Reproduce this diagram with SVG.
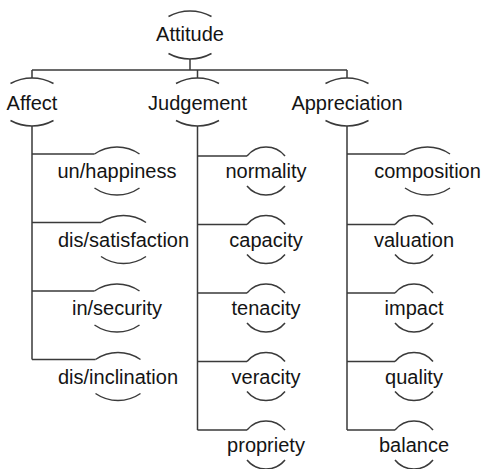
<svg xmlns="http://www.w3.org/2000/svg" width="485" height="469" viewBox="0 0 485 469">
<style>
.arc{fill:none;stroke:#3a3a3a;stroke-width:1.5}
.ln{fill:none;stroke:#3a3a3a;stroke-width:1.5}
text{font-family:"Liberation Sans",Arial,sans-serif;font-size:20px;fill:#141414;text-anchor:middle}
</style>
<rect width="485" height="469" fill="#ffffff"/>
<g id="connectors">
<path class="ln" d="M190,59 V70 M32,70 H347 M32,70 V78 M197.5,70 V78 M347,70 V78"/>
<path class="ln" d="M32,126 V359.5 M32,154 H94.5 M32,222.5 H101 M32,291 H94.5 M32,359.5 H95.5"/>
<path class="ln" d="M197.5,126 V430 M197.5,156 H247 M197.5,224.5 H247 M197.5,293 H247 M197.5,361.5 H247 M197.5,430 H247"/>
<path class="ln" d="M347,126 V430 M347,154 H405 M347,224.5 H395 M347,293 H395 M347,361.5 H395 M347,430 H395"/>
</g>
<g id="attitude"><path class="arc" d="M168.5,16.5 A44.77,44.77 0 0 1 211.5,16.5 M168.5,53.5 A44.77,44.77 0 0 0 211.5,53.5"/><text x="190" y="41">Attitude</text></g>
<g id="affect"><path class="arc" d="M10.5,83.5 A44.77,44.77 0 0 1 53.5,83.5 M10.5,120.5 A44.77,44.77 0 0 0 53.5,120.5"/><text x="32" y="109.5">Affect</text></g>
<g id="judgement"><path class="arc" d="M176,83.5 A44.77,44.77 0 0 1 219,83.5 M176,120.5 A44.77,44.77 0 0 0 219,120.5"/><text x="197.5" y="109.5">Judgement</text></g>
<g id="appreciation"><path class="arc" d="M325.5,83.5 A44.77,44.77 0 0 1 368.5,83.5 M325.5,120.5 A44.77,44.77 0 0 0 368.5,120.5"/><text x="347" y="109.5">Appreciation</text></g>
<g id="unhappiness"><path class="arc" d="M94.5,154 A39.66,39.66 0 0 1 139.5,154 M94.5,188 A39.66,39.66 0 0 0 139.5,188"/><text x="117" y="178">un/happiness</text></g>
<g id="dissatisfaction"><path class="arc" d="M101,222.5 A39.66,39.66 0 0 1 146,222.5 M101,256.5 A39.66,39.66 0 0 0 146,256.5"/><text x="123.5" y="246.5">dis/satisfaction</text></g>
<g id="insecurity"><path class="arc" d="M94.5,291 A39.66,39.66 0 0 1 139.5,291 M94.5,325 A39.66,39.66 0 0 0 139.5,325"/><text x="117" y="315">in/security</text></g>
<g id="disinclination"><path class="arc" d="M95.5,359.5 A39.66,39.66 0 0 1 140.5,359.5 M95.5,393.5 A39.66,39.66 0 0 0 140.5,393.5"/><text x="118" y="383.5">dis/inclination</text></g>
<g id="normality"><path class="arc" d="M247,156 A24.56,24.56 0 0 1 285,156 M247,186 A24.56,24.56 0 0 0 285,186"/><text x="266" y="178">normality</text></g>
<g id="capacity"><path class="arc" d="M247,224.5 A24.56,24.56 0 0 1 285,224.5 M247,254.5 A24.56,24.56 0 0 0 285,254.5"/><text x="266" y="246.5">capacity</text></g>
<g id="tenacity"><path class="arc" d="M247,293 A24.56,24.56 0 0 1 285,293 M247,323 A24.56,24.56 0 0 0 285,323"/><text x="266" y="315">tenacity</text></g>
<g id="veracity"><path class="arc" d="M247,361.5 A24.56,24.56 0 0 1 285,361.5 M247,391.5 A24.56,24.56 0 0 0 285,391.5"/><text x="266" y="383.5">veracity</text></g>
<g id="propriety"><path class="arc" d="M247,430 A24.56,24.56 0 0 1 285,430 M247,460 A24.56,24.56 0 0 0 285,460"/><text x="266" y="452">propriety</text></g>
<g id="composition"><path class="arc" d="M405,154 A39.66,39.66 0 0 1 450,154 M405,188 A39.66,39.66 0 0 0 450,188"/><text x="427.5" y="178">composition</text></g>
<g id="valuation"><path class="arc" d="M395,224.5 A24.56,24.56 0 0 1 433,224.5 M395,254.5 A24.56,24.56 0 0 0 433,254.5"/><text x="414" y="246.5">valuation</text></g>
<g id="impact"><path class="arc" d="M395,293 A24.56,24.56 0 0 1 433,293 M395,323 A24.56,24.56 0 0 0 433,323"/><text x="414" y="315">impact</text></g>
<g id="quality"><path class="arc" d="M395,361.5 A24.56,24.56 0 0 1 433,361.5 M395,391.5 A24.56,24.56 0 0 0 433,391.5"/><text x="414" y="383.5">quality</text></g>
<g id="balance"><path class="arc" d="M395,430 A24.56,24.56 0 0 1 433,430 M395,460 A24.56,24.56 0 0 0 433,460"/><text x="414" y="452">balance</text></g>
</svg>
